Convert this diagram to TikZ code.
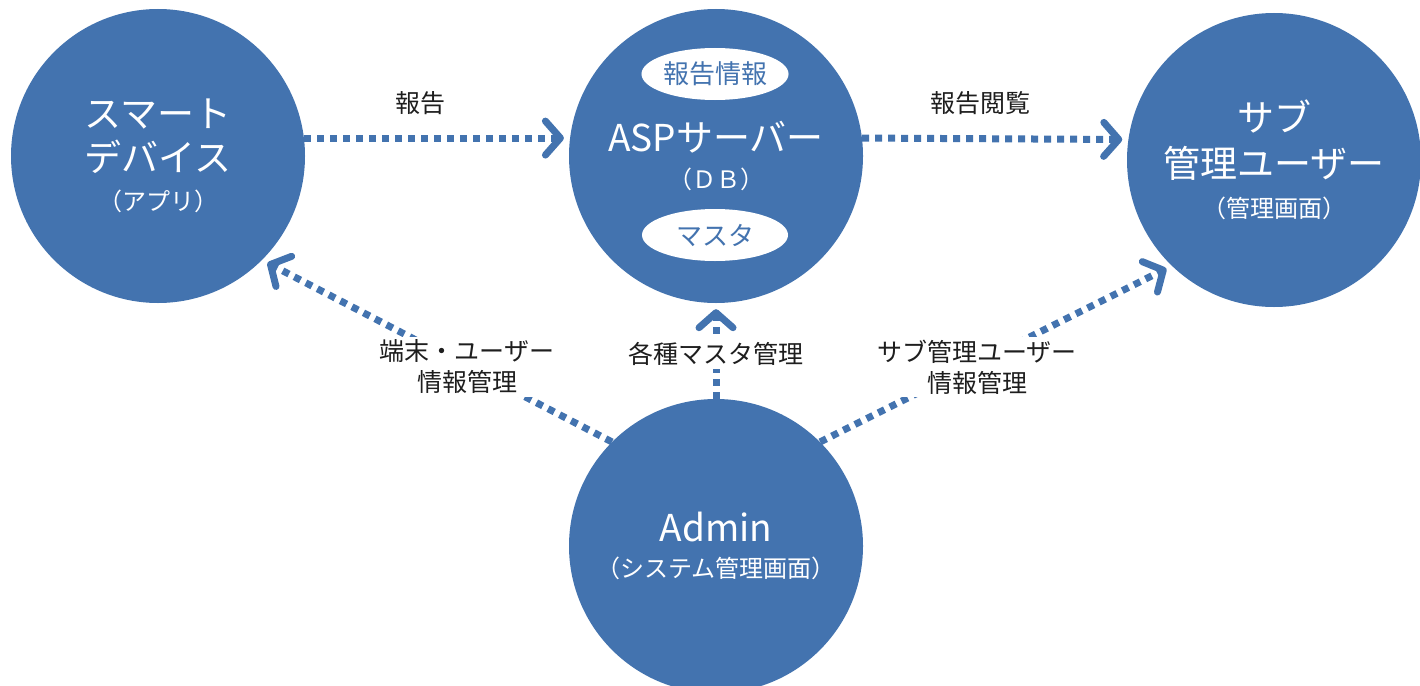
\documentclass[tikz,border=0pt]{standalone}
\usepackage{fontspec}
\setmainfont{Noto Sans CJK JP}
\usepackage{xcolor}
\usetikzlibrary{arrows.meta,shapes.geometric}
\definecolor{nodeblue}{RGB}{67,115,175}
\definecolor{labelgray}{RGB}{30,30,30}
\pgfdeclarelayer{background}
\pgfsetlayers{background,main}

\tikzset{
  party/.style={circle, fill=nodeblue, text=white, minimum size=294pt, inner sep=0pt, align=center, font=\fontsize{37}{44}\selectfont},
  store/.style={ellipse, fill=white, text=nodeblue, minimum width=146pt, minimum height=52pt, inner sep=0pt, font=\fontsize{26}{30}\selectfont},
  flow/.style={nodeblue, line width=7pt, dash pattern=on 7pt off 6pt, -{Straight Barb[length=15pt, width=34pt, round]}, shorten >=6pt},
  flowlabel/.style={fill=white, text=labelgray, align=center, inner sep=3pt, font=\fontsize{25}{31}\selectfont},
}
\newcommand{\notesize}{\fontsize{24}{30}\selectfont}

\begin{document}
\begin{tikzpicture}[x=1pt,y=-1pt]
  \useasboundingbox (0,0) rectangle (1420,685);
  % parties
  \node[party] (dev) at (158,156) {スマート\\デバイス\\[-5pt]\notesize （アプリ）};
  \node[party] (asp) at (716,156) {ASPサーバー\\[-7pt]\notesize （ＤＢ）};
  \node[party] (subuser) at (1274,160) {サブ\\[2pt]管理ユーザー\\[-4pt]\notesize （管理画面）};
  \node[party] (admin) at (716,546) {Admin\\[-8pt]\notesize （システム管理画面）};
  \node[store] (report) at (715,74) {報告情報};
  \node[store] (master) at (715,235) {マスタ};
  % labels
  \node[flowlabel] (lreport) at (420,103) {報告};
  \node[flowlabel] (lview) at (980,103) {報告閲覧};
  \node[flowlabel] (ldev) at (467,367) {端末・ユーザー\\情報管理};
  \node[flowlabel] (lmaster) at (716,354) {各種マスタ管理};
  \node[flowlabel] (lsub) at (977,367) {サブ管理ユーザー\\情報管理};
  % connectors
  \begin{pgfonlayer}{background}
    \draw[flow] (dev.7) -- (asp.173);
    \draw[flow] (asp.7) -- (subuser.172);
    \draw[flow] (admin.135) -- (dev.-45);
    \draw[flow] (admin.north) -- (asp.south);
    \draw[flow] (admin.45) -- (subuser.-134);
  \end{pgfonlayer}
\end{tikzpicture}
\end{document}
